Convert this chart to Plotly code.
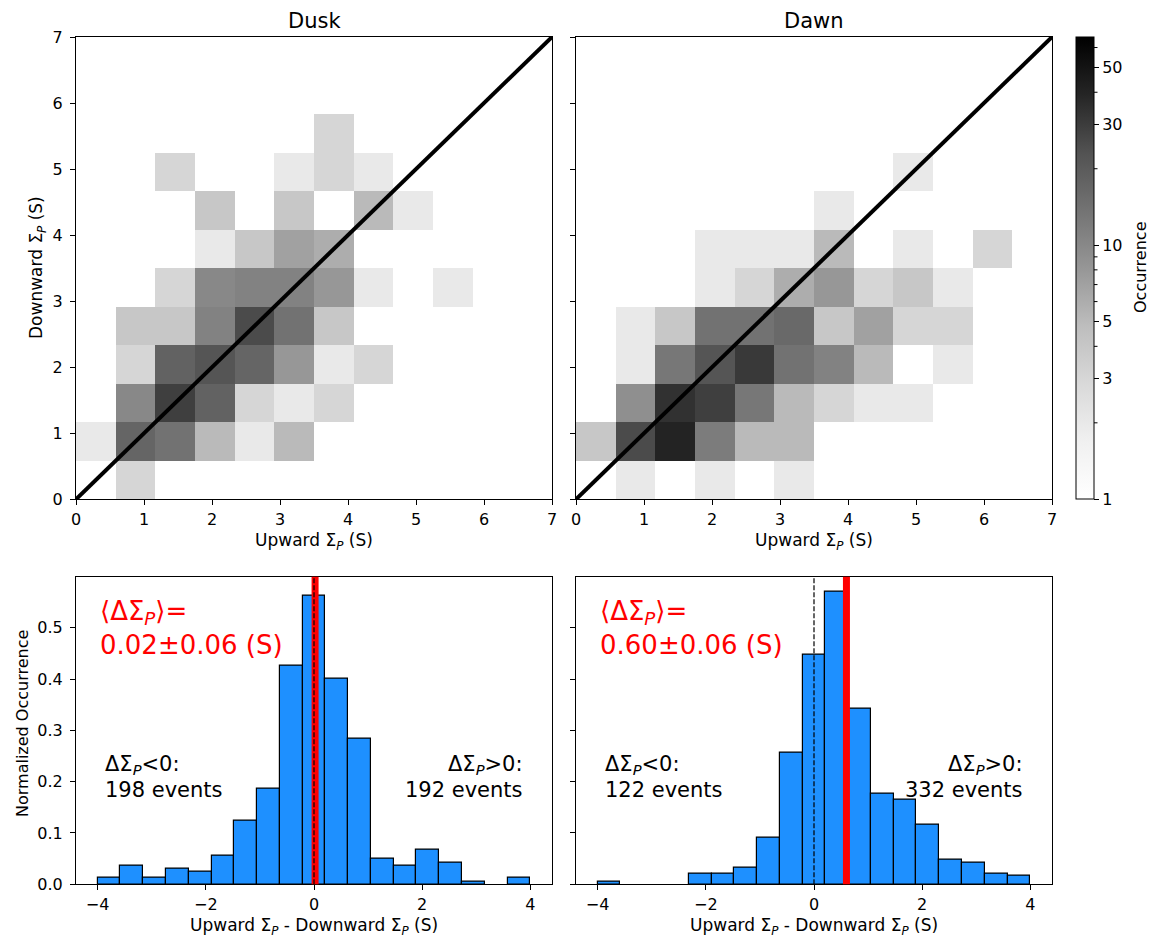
import math
import plotly.graph_objects as go

# ---------------- data ----------------
sigma_max = 7.0
n_bins_2d = 12

# 2-D histogram counts, rows = Downward bins (bottom -> top), cols = Upward bins (left -> right)
dusk_counts = [
    [0, 3, 0, 0, 0, 0, 0, 0, 0, 0, 0, 0],
    [2, 17, 14, 5, 2, 5, 0, 0, 0, 0, 0, 0],
    [0, 10, 29, 18, 3, 2, 3, 0, 0, 0, 0, 0],
    [0, 3, 18, 22, 17, 8, 2, 3, 0, 0, 0, 0],
    [0, 4, 4, 11, 25, 14, 4, 0, 0, 0, 0, 0],
    [0, 0, 3, 10, 11, 11, 8, 2, 0, 2, 0, 0],
    [0, 0, 0, 2, 4, 7, 6, 0, 0, 0, 0, 0],
    [0, 0, 0, 4, 0, 4, 0, 5, 2, 0, 0, 0],
    [0, 0, 3, 0, 0, 2, 3, 2, 0, 0, 0, 0],
    [0, 0, 0, 0, 0, 0, 3, 0, 0, 0, 0, 0],
    [0, 0, 0, 0, 0, 0, 0, 0, 0, 0, 0, 0],
    [0, 0, 0, 0, 0, 0, 0, 0, 0, 0, 0, 0],
]
dawn_counts = [
    [0, 2, 0, 2, 0, 2, 0, 0, 0, 0, 0, 0],
    [4, 25, 40, 12, 5, 5, 0, 0, 0, 0, 0, 0],
    [0, 9, 34, 29, 13, 5, 3, 2, 2, 0, 0, 0],
    [0, 2, 13, 22, 31, 14, 11, 5, 0, 2, 0, 0],
    [0, 2, 4, 14, 14, 16, 4, 7, 3, 3, 0, 0],
    [0, 0, 0, 2, 3, 6, 8, 3, 4, 2, 0, 0],
    [0, 0, 0, 2, 2, 2, 5, 0, 2, 0, 3, 0],
    [0, 0, 0, 0, 0, 0, 2, 0, 0, 0, 0, 0],
    [0, 0, 0, 0, 0, 0, 0, 0, 2, 0, 0, 0],
    [0, 0, 0, 0, 0, 0, 0, 0, 0, 0, 0, 0],
    [0, 0, 0, 0, 0, 0, 0, 0, 0, 0, 0, 0],
    [0, 0, 0, 0, 0, 0, 0, 0, 0, 0, 0, 0],
]

hist_lo, hist_hi, hist_nbins = -4.0, 4.0, 19
dusk_hist = [0.0123, 0.037, 0.0123, 0.0305, 0.0246, 0.0558, 0.1239, 0.1855, 0.426,
             0.563, 0.401, 0.284, 0.0493, 0.037, 0.068, 0.0428, 0.0058, 0.0, 0.0123]
dawn_hist = [0.0052, 0.0, 0.0, 0.0, 0.0207, 0.0207, 0.0318, 0.0908, 0.256,
             0.448, 0.571, 0.342, 0.176, 0.165, 0.117, 0.0473, 0.0428, 0.0207, 0.0162]

dusk_mean, dawn_mean = 0.02, 0.60
dusk_mean_text, dawn_mean_text = "0.02±0.06 (S)", "0.60±0.06 (S)"
dusk_neg, dusk_pos = 198, 192
dawn_neg, dawn_pos = 122, 332

cbar_major = [1, 3, 5, 10, 30, 50]
cbar_minor = [2, 4, 6, 7, 8, 9, 20, 40, 60]
cbar_max = 66

# ---------------- geometry helpers ----------------
W, H = 1151, 938
FONT = "DejaVu Sans"


def px(sx):
    return sx / W


def py(sy):
    return 1 - sy / H


heat_x1 = [px(76), px(552)]
heat_x2 = [px(576), px(1052)]
heat_y = [py(499.3), py(37)]
hist_y = [py(884.3), py(576.7)]

greys = [[0.0, "#ffffff"], [0.125, "#f0f0f0"], [0.25, "#d9d9d9"], [0.375, "#bdbdbd"],
         [0.5, "#969696"], [0.625, "#737373"], [0.75, "#525252"], [0.875, "#252525"],
         [1.0, "#000000"]]

edges2d = [i * sigma_max / n_bins_2d for i in range(n_bins_2d + 1)]
zmax = math.log10(cbar_max)


def logz(m):
    return [[math.log10(v) if v > 0 else None for v in row] for row in m]


fig = go.Figure()

fig.add_trace(go.Heatmap(x=edges2d, y=edges2d, z=logz(dusk_counts), colorscale=greys,
                         zmin=0, zmax=zmax, showscale=False, xaxis="x", yaxis="y",
                         hoverinfo="skip"))
fig.add_trace(go.Heatmap(
    x=edges2d, y=edges2d, z=logz(dawn_counts), colorscale=greys, zmin=0, zmax=zmax,
    xaxis="x2", yaxis="y2", hoverinfo="skip", showscale=True,
    colorbar=dict(x=px(1076), xanchor="left", y=(heat_y[0] + heat_y[1]) / 2, yanchor="middle",
                  len=heat_y[1] - heat_y[0], lenmode="fraction", thickness=18,
                  thicknessmode="pixels", xpad=0, ypad=0, outlinewidth=1, outlinecolor="black",
                  ticks="outside", ticklen=5, tickwidth=1, tickcolor="black",
                  tickvals=[math.log10(v) for v in cbar_major],
                  ticktext=[str(v) for v in cbar_major],
                  tickfont=dict(family=FONT, size=16, color="black"))))

for xa, ya in (("x", "y"), ("x2", "y2")):
    fig.add_trace(go.Scatter(x=[0, sigma_max], y=[0, sigma_max], mode="lines",
                             line=dict(color="black", width=4), xaxis=xa, yaxis=ya,
                             hoverinfo="skip"))

bw = (hist_hi - hist_lo) / hist_nbins
centers = [hist_lo + (i + 0.5) * bw for i in range(hist_nbins)]
for vals, xa, ya in ((dusk_hist, "x3", "y3"), (dawn_hist, "x4", "y4")):
    fig.add_trace(go.Bar(x=centers, y=[v if v > 0 else None for v in vals], width=bw,
                         marker=dict(color="#1e90ff", line=dict(color="black", width=1.2)),
                         xaxis=xa, yaxis=ya, hoverinfo="skip"))

hist_top = 1.05 * max(max(dusk_hist), max(dawn_hist))

ax_common = dict(showline=True, linecolor="black", linewidth=1, mirror=True, ticks="outside",
                 ticklen=5, tickwidth=1, tickcolor="black", showgrid=False, zeroline=False,
                 automargin=False,
                 tickfont=dict(family=FONT, size=16, color="black"), fixedrange=True)

heat_ticks = list(range(0, int(sigma_max) + 1))
hist_xticks = [-4, -2, 0, 2, 4]
hist_xtext = [("−" + str(-v)) if v < 0 else str(v) for v in hist_xticks]
hist_yticks = [0.0, 0.1, 0.2, 0.3, 0.4, 0.5]

fig.update_layout(
    xaxis=dict(domain=heat_x1, anchor="y", range=[0, sigma_max], tickvals=heat_ticks, **ax_common),
    yaxis=dict(domain=heat_y, anchor="x", range=[0, sigma_max], tickvals=heat_ticks,
               ticklabelstandoff=4, **ax_common),
    xaxis2=dict(domain=heat_x2, anchor="y2", range=[0, sigma_max], tickvals=heat_ticks, **ax_common),
    yaxis2=dict(domain=heat_y, anchor="x2", range=[0, sigma_max], tickvals=heat_ticks,
                showticklabels=False, **ax_common),
    xaxis3=dict(domain=heat_x1, anchor="y3", range=[-4.4, 4.4], tickvals=hist_xticks,
                ticktext=hist_xtext, **ax_common),
    yaxis3=dict(domain=hist_y, anchor="x3", range=[0, hist_top], tickvals=hist_yticks,
                tickformat=".1f", ticklabelstandoff=4, **ax_common),
    xaxis4=dict(domain=heat_x2, anchor="y4", range=[-4.4, 4.4], tickvals=hist_xticks,
                ticktext=hist_xtext, **ax_common),
    yaxis4=dict(domain=hist_y, anchor="x4", range=[0, hist_top], tickvals=hist_yticks,
                showticklabels=False, **ax_common),
)

shapes = []
for mean, xa, ya in ((dusk_mean, "x3", "y3"), (dawn_mean, "x4", "y4")):
    shapes.append(dict(type="line", xref=xa, yref=ya + " domain", x0=mean, x1=mean, y0=0, y1=1,
                       line=dict(color="red", width=7), layer="above"))
    shapes.append(dict(type="line", xref=xa, yref=ya + " domain", x0=0, x1=0, y0=0, y1=1,
                       line=dict(color="black", width=1.2, dash="5px,2px"), layer="above"))
# colorbar minor ticks
for v in cbar_minor:
    yy = heat_y[0] + math.log10(v) / zmax * (heat_y[1] - heat_y[0])
    shapes.append(dict(type="line", xref="paper", yref="paper", x0=px(1094), x1=px(1097.5),
                       y0=yy, y1=yy, line=dict(color="black", width=1)))

ann = []


def text(sx, sy, s, size=16, color="black", xanchor="center", yanchor="middle", angle=0):
    ann.append(dict(x=px(sx), y=py(sy), xref="paper", yref="paper", text=s, showarrow=False,
                    xanchor=xanchor, yanchor=yanchor, textangle=angle,
                    font=dict(family=FONT, size=size, color=color)))


SP = "Σ<sub><i>P</i></sub>"
text(314, 21.5, "Dusk", size=21)
text(814, 21.5, "Dawn", size=21)
text(314, 541, "Upward " + SP + " (S)", size=17)
text(814, 541, "Upward " + SP + " (S)", size=17)
text(37, 268, "Downward " + SP + " (S)", size=17, angle=-90)
text(1140, 268, "Occurrence", size=16, angle=-90)
text(22, 724, "Normalized Occurrence", size=16, angle=-90)
text(314, 926, "Upward " + SP + " - Downward " + SP + " (S)", size=17)
text(814, 926, "Upward " + SP + " - Downward " + SP + " (S)", size=17)

for dx, mtxt, nneg, npos in ((0, dusk_mean_text, dusk_neg, dusk_pos),
                             (500, dawn_mean_text, dawn_neg, dawn_pos)):
    text(98 + dx, 612, "⟨Δ" + SP + "⟩=", size=26, color="red", xanchor="left")
    text(98 + dx, 645, mtxt, size=26, color="red", xanchor="left")
    text(103 + dx, 765, "Δ" + SP + "&lt;0:", size=21, xanchor="left")
    text(103 + dx, 790, f"{nneg} events", size=21, xanchor="left")
    text(525 + dx, 765, "Δ" + SP + "&gt;0:", size=21, xanchor="right")
    text(525 + dx, 790, f"{npos} events", size=21, xanchor="right")

fig.update_layout(width=W, height=H, margin=dict(l=0, r=0, t=0, b=0, autoexpand=False),
                  paper_bgcolor="white", plot_bgcolor="white", showlegend=False,
                  font=dict(family=FONT, color="black"), shapes=shapes, annotations=ann,
                  bargap=0)

fig.write_html("out.html", config={"displayModeBar": False},
               post_script="document.body.style.margin='0';"
                           "document.documentElement.style.overflow='hidden';"
                           "document.body.style.overflow='hidden';")
